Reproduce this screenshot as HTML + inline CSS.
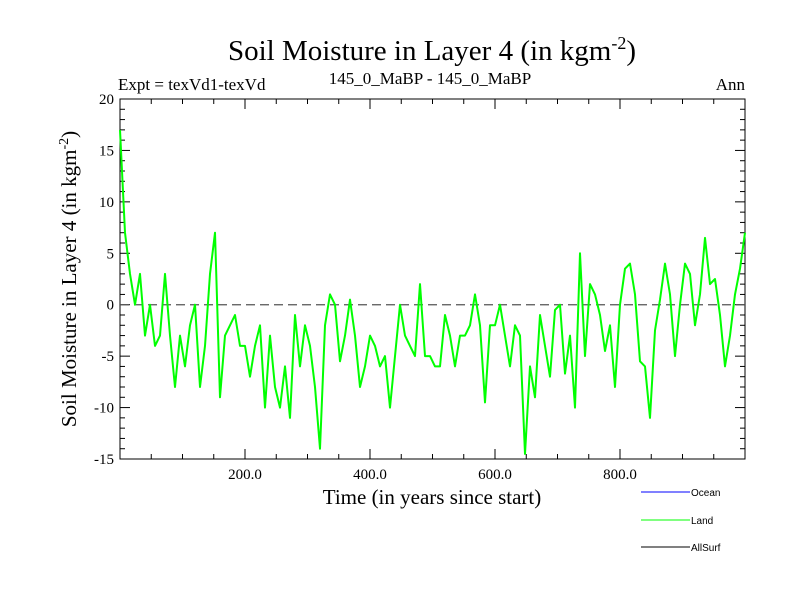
<!DOCTYPE html>
<html><head><meta charset="utf-8"><style>
body{margin:0;background:#fff}
svg{display:block;font-family:"Liberation Serif",serif}
</style></head><body>
<svg id="chart" width="800" height="600" viewBox="0 0 800 600">
<text x="432" y="60" font-size="29" text-anchor="middle">Soil Moisture in Layer 4 (in kgm<tspan dy="-11" font-size="18">-2</tspan><tspan dy="11">)</tspan></text>
<text x="118" y="90" font-size="17">Expt = texVd1-texVd</text>
<text x="430" y="84" font-size="17" text-anchor="middle">145_0_MaBP - 145_0_MaBP</text>
<text x="745" y="90" font-size="17" text-anchor="end">Ann</text>
<text x="432" y="504" font-size="21" text-anchor="middle">Time (in years since start)</text>
<text transform="translate(76,279) rotate(-90)" font-size="21" text-anchor="middle">Soil Moisture in Layer 4 (in kgm<tspan dy="-8" font-size="14">-2</tspan><tspan dy="8">)</tspan></text>
<g id="axes"></g>
<g id="marks"></g>
<g font-family="Liberation Sans, sans-serif" font-size="10">
<line x1="641" y1="492" x2="690" y2="492" stroke="#0000ff" stroke-width="1"/>
<text x="691" y="496">Ocean</text>
<line x1="641" y1="520" x2="690" y2="520" stroke="#00ff00" stroke-width="1"/>
<text x="691" y="524">Land</text>
<line x1="641" y1="547" x2="690" y2="547" stroke="#000" stroke-width="1"/>
<text x="691" y="551">AllSurf</text>
</g>
</svg>
<script>
const xTicks=[200,400,600,800];
const xTickLabels=["200.0","400.0","600.0","800.0"];
const yTicks=[-15,-10,-5,0,5,10,15,20];
const yTickLabels=["-15","-10","-5","0","5","10","15","20"];
const yearStep=8;
const landValues=[17,7,3,0,3,-3,0,-4,-3,3,-3,-8,-3,-6,-2,0,-8,-4,3,7,-9,-3,-2,-1,-4,-4,-7,-4,-2,-10,-3,-8,-10,-6,-11,-1,-6,-2,-4,-8,-14,-2,1,0,
-5.5,-3,0.5,-3,-8,-6,-3,-4,-6,-5,-10,-5,0,-3,-4,-5,2,-5,-5,-6,-6,-1,-3,-6,-3,-3,-2,1,-2,-9.5,-2,-2,0,-3,-6,-2,-3,-14.5,-6,-9,-1,
-4,-7,-0.5,0,-6.7,-3,-10,5,-5,2,1,-1,-4.5,-2,-8,0,3.5,4,1,-5.5,-6,-11,-2.5,0.5,4,1,-5,0,4,3,-2,1,6.5,2,2.5,-1,-6,-3,1,3.5,7];
const L=120,R=745,T=99,B=459,xMin=0,xMax=1000,yMin=-15,yMax=20;
const xs=v=>L+(v-xMin)/(xMax-xMin)*(R-L);
const ys=v=>B-(v-yMin)/(yMax-yMin)*(B-T);
const NS="http://www.w3.org/2000/svg";
const axes=document.getElementById('axes'),marks=document.getElementById('marks');
function mk(tag,attrs,parent){const e=document.createElementNS(NS,tag);for(const k in attrs)e.setAttribute(k,attrs[k]);parent.appendChild(e);return e;}
const frame=mk('rect',{x:L,y:T,width:R-L,height:B-T,fill:'none',stroke:'#000','stroke-width':1},axes);


for(let v=50;v<1000;v+=50){const major=v%200===0;const len=major?10:5;
const t1=mk('line',{x1:xs(v),x2:xs(v),y1:B,y2:B-len,stroke:'#000'},axes);


const t2=mk('line',{x1:xs(v),x2:xs(v),y1:T,y2:T+len,stroke:'#000'},axes);

}
for(let v=yMin+1;v<yMax;v+=1){const major=v%5===0;const len=major?10:5;
const t1=mk('line',{x1:L,x2:L+len,y1:ys(v),y2:ys(v),stroke:'#000'},axes);


const t2=mk('line',{x1:R,x2:R-len,y1:ys(v),y2:ys(v),stroke:'#000'},axes);

}
xTicks.forEach((v,i)=>{const t=mk('text',{x:xs(v),y:B+20,'font-size':15,'text-anchor':'middle'},axes);t.textContent=xTickLabels[i];

});
yTicks.forEach((v,i)=>{const t=mk('text',{x:L-6,y:ys(v)+5,'font-size':15,'text-anchor':'end'},axes);t.textContent=yTickLabels[i];

});
const zl=mk('line',{x1:L,x2:R,y1:ys(0),y2:ys(0),stroke:'#555','stroke-width':1.3,'stroke-dasharray':'9,5'},axes);


const pts=landValues.map((v,i)=>xs(Math.min(i*yearStep,xMax)).toFixed(1)+','+ys(v).toFixed(1)).join(' ');
const line=mk('polyline',{points:pts,fill:'none',stroke:'#00ff00','stroke-width':2,'stroke-linejoin':'round'},marks);


</script>
</body></html>
